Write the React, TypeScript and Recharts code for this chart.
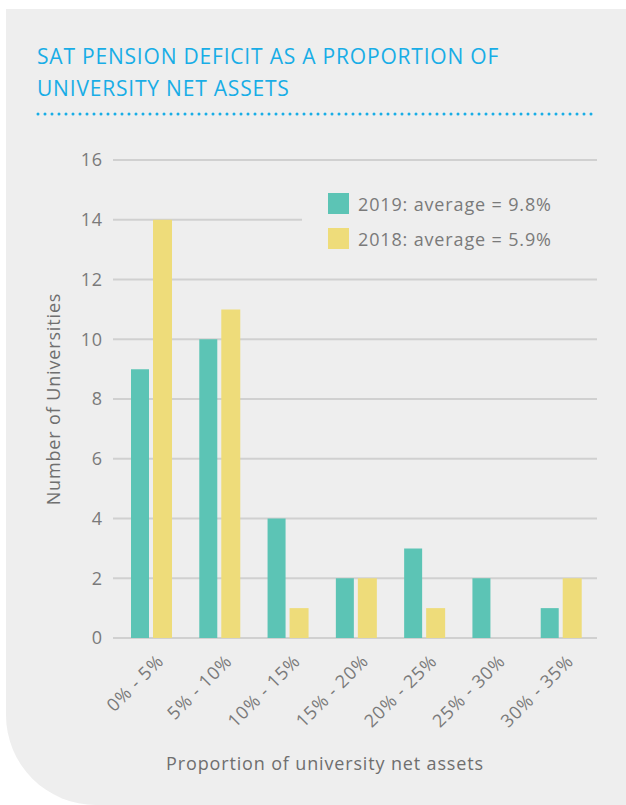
import { BarChart, Bar, XAxis, YAxis, CartesianGrid, Legend } from 'recharts';

const ranges = ['0% - 5%', '5% - 10%', '10% - 15%', '15% - 20%', '20% - 25%', '25% - 30%', '30% - 35%'];
const count2019 = [9, 10, 4, 2, 3, 2, 1];
const count2018 = [14, 11, 1, 2, 1, 0, 2];
const yTicks = [0, 2, 4, 6, 8, 10, 12, 14, 16];
const seriesLabels = ['2019: average = 9.8%', '2018: average = 5.9%'];

const TEAL = '#5cc4b5';
const YELLOW = '#eedc7a';
const TEXT = '#7a7a7a';
const PANEL = '#eeeeee';
const FONT = '"Open Sans", Lato, sans-serif';
const SPACING = 0.85;

const data = ranges.map((range, i) => ({
  range,
  y2019: count2019[i],
  y2018: count2018[i],
}));

function RangeTick({ x = 0, y = 0, payload }: { x?: number; y?: number; payload?: { value: string } }) {
  const ax = x + 1;
  const ay = y + 12;
  return (
    <text
      x={ax}
      y={ay}
      dx={6}
      dy={12}
      transform={`rotate(-45, ${ax}, ${ay})`}
      textAnchor="end"
      fill={TEXT}
      fontSize={18}
      letterSpacing={SPACING}
      fontFamily={FONT}
    >
      {payload?.value}
    </text>
  );
}

function LegendBox() {
  const colors = [TEAL, YELLOW];
  return (
    <div style={{ background: PANEL, padding: '8px 0 8px 26px', fontFamily: FONT }}>
      {seriesLabels.map((label, i) => (
        <div key={label} style={{ display: 'flex', alignItems: 'center', height: 35 }}>
          <span style={{ width: 21, height: 21, background: colors[i], marginRight: 9 }} />
          <span style={{ fontSize: 18, color: TEXT, letterSpacing: SPACING }}>{label}</span>
        </div>
      ))}
    </div>
  );
}

export default function App() {
  return (
    <div style={{ position: 'absolute', left: 0, top: 0, width: 626, height: 805, background: '#fff', overflow: 'hidden' }}>
      <div
        style={{
          position: 'absolute',
          left: 6,
          top: 9,
          width: 620,
          height: 796,
          background: PANEL,
          borderBottomLeftRadius: 90,
        }}
      />
      <div
        style={{
          position: 'absolute',
          left: 37,
          top: 40,
          color: '#18ade6',
          fontFamily: FONT,
          fontSize: 21,
          letterSpacing: 0.8,
          lineHeight: '32px',
          whiteSpace: 'nowrap',
        }}
      >
        SAT PENSION DEFICIT AS A PROPORTION OF
        <br />
        UNIVERSITY NET ASSETS
      </div>
      <svg style={{ position: 'absolute', left: 0, top: 0 }} width={626} height={130}>
        <line x1={38} y1={114} x2={594} y2={114} stroke="#18ade6" strokeWidth={3} strokeLinecap="round" strokeDasharray="0 7" />
      </svg>
      <div style={{ position: 'absolute', left: 0, top: 0 }}>
        <BarChart
          width={626}
          height={805}
          data={data}
          margin={{ top: 160, right: 29, left: 0, bottom: 27 }}
          barGap={4}
          barCategoryGap={14}
        >
          <CartesianGrid vertical={false} stroke="#d0d0d0" strokeWidth={2} />
          <XAxis
            dataKey="range"
            axisLine={false}
            tickLine={false}
            interval={0}
            height={140}
            padding={{ left: 4, right: 2 }}
            tick={<RangeTick />}
            label={{
              value: 'Proportion of university net assets',
              position: 'insideBottom',
              offset: 8,
              dx: -30,
              fill: '#6f6f6f',
              fontSize: 18,
              letterSpacing: SPACING,
              fontFamily: FONT,
            }}
          />
          <YAxis
            domain={[0, 16]}
            ticks={yTicks}
            width={113}
            axisLine={false}
            tickLine={false}
            tickMargin={4}
            tick={{ fill: TEXT, fontSize: 18, fontFamily: FONT, letterSpacing: SPACING }}
            label={{
              value: 'Number of Universities',
              angle: -90,
              position: 'center',
              dx: -3,
              fill: '#6f6f6f',
              fontSize: 18,
              letterSpacing: SPACING,
              fontFamily: FONT,
            }}
          />
          <Legend
            verticalAlign="middle"
            align="center"
            content={<LegendBox />}
            wrapperStyle={{ top: 178, left: 302, width: 296 }}
          />
          <Bar dataKey="y2019" name={seriesLabels[0]} fill={TEAL} barSize={18} isAnimationActive={false} />
          <Bar dataKey="y2018" name={seriesLabels[1]} fill={YELLOW} barSize={19} isAnimationActive={false} />
        </BarChart>
      </div>
    </div>
  );
}
